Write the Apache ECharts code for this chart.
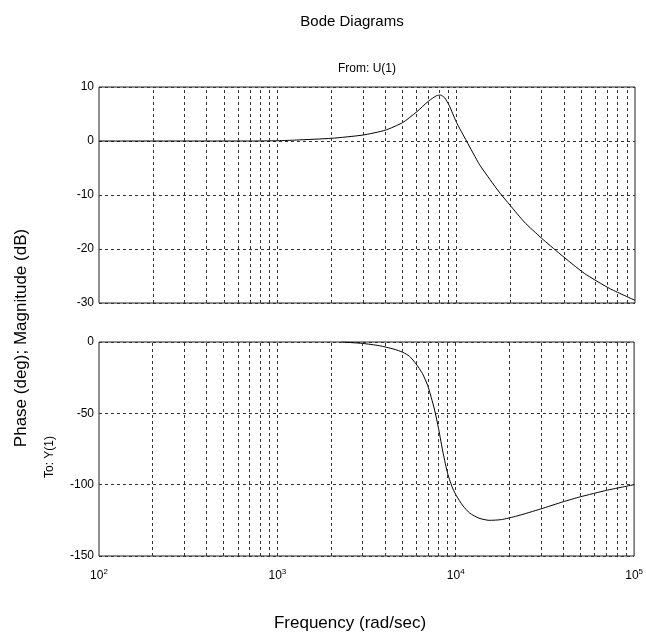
<!DOCTYPE html>
<html>
<head>
<meta charset="utf-8">
<script src="https://cdn.jsdelivr.net/npm/echarts@6/dist/echarts.min.js"></script>
<style>
  html, body { margin: 0; padding: 0; background: #fff; }
  #bode { width: 646px; height: 636px; }
</style>
</head>
<body>
<div id="bode"></div>
<script>
// magnitude curve (rad/sec, dB)
var magFreq = [100, 300, 700, 1000, 1276, 2000, 3000, 4000, 5000, 6000, 7000, 7760, 8170, 8600, 9120, 10000, 11400, 13500, 15400, 17500, 20000, 24000, 30000, 38000, 52000, 72000, 100000];
var magDb   = [0, 0, 0, 0.05, 0.18, 0.5, 1.1, 2.0, 3.4, 5.4, 7.4, 8.4, 8.5, 8.0, 6.6, 3.5, 0, -4.4, -7.1, -9.6, -11.9, -15, -18, -20.9, -24.5, -27.3, -29.5];

// phase curve (rad/sec, deg)
var phaseFreq = [2300, 3000, 3733, 4500, 5050, 5500, 6000, 6500, 6970, 7590, 8020, 8500, 9000, 9500, 10000, 11000, 12000, 13500, 15400, 18000, 22000, 30000, 40000, 50000, 70000, 100000];
var phaseDeg  = [0, -1, -2.6, -5, -7.2, -10, -15.4, -22, -30.6, -47, -61, -78, -92, -101, -107, -115, -120, -123.5, -125, -124.5, -122, -117, -112, -108.5, -104, -100];

// dashed frequency grid lines
var gridFreqs = [200, 300, 400, 500, 600, 700, 800, 900, 1000,
                 2000, 3000, 4000, 5000, 6000, 7000, 8000, 9000, 10000,
                 20000, 30000, 40000, 50000, 60000, 70000, 80000, 90000];

function pairs(xs, ys) {
  return xs.map(function (x, i) { return [x, ys[i]]; });
}

var dash = { type: [3, 3], color: '#333', width: 1 };
var gridLines = {
  silent: true,
  symbol: 'none',
  label: { show: false },
  lineStyle: dash,
  animation: false,
  data: gridFreqs.map(function (f) { return { xAxis: f }; })
};

var tickFont = { fontFamily: 'Liberation Sans', fontSize: 12, color: '#000' };

var chart = echarts.init(document.getElementById('bode'));
chart.setOption({
  animation: false,
  backgroundColor: '#fff',
  title: [
    { text: 'Bode Diagrams', left: 347, top: 9, textAlign: 'center',
      textStyle: { fontFamily: 'Liberation Sans', fontSize: 15, fontWeight: 'normal', color: '#000' } },
    { text: 'From: U(1)', left: 362, top: 58, textAlign: 'center',
      textStyle: { fontFamily: 'Liberation Sans', fontSize: 12, fontWeight: 'normal', color: '#000' } }
  ],
  grid: [
    { left: 99, top: 87, width: 536, height: 216, show: true, borderColor: '#222', borderWidth: 1 },
    { left: 99, top: 342, width: 536, height: 214, show: true, borderColor: '#222', borderWidth: 1 }
  ],
  xAxis: [
    { type: 'log', logBase: 10, min: 100, max: 100000, gridIndex: 0,
      axisLine: { show: false }, axisTick: { show: false }, axisLabel: { show: false },
      splitLine: { show: false } },
    { type: 'log', logBase: 10, min: 100, max: 100000, gridIndex: 1,
      axisLine: { show: false }, axisTick: { show: false }, splitLine: { show: false },
      axisLabel: {
        margin: 12,
        formatter: function (v) {
          return '{b|10}{s|' + Math.round(Math.log10(v)) + '}';
        },
        rich: {
          b: { fontFamily: 'Liberation Sans', fontSize: 12, color: '#000', lineHeight: 16 },
          s: { fontFamily: 'Liberation Sans', fontSize: 8, color: '#000', verticalAlign: 'top', lineHeight: 10 }
        }
      } }
  ],
  yAxis: [
    { type: 'value', min: -30, max: 10, interval: 10, gridIndex: 0,
      axisLine: { show: false }, axisTick: { show: false },
      axisLabel: Object.assign({ margin: 5 }, tickFont),
      splitLine: { show: true, lineStyle: dash } },
    { type: 'value', min: -150, max: 0, interval: 50, gridIndex: 1,
      axisLine: { show: false }, axisTick: { show: false },
      axisLabel: Object.assign({ margin: 5 }, tickFont),
      splitLine: { show: true, lineStyle: dash } }
  ],
  graphic: [
    { type: 'text', x: 21, y: 338, rotation: Math.PI / 2,
      style: { text: 'Phase (deg); Magnitude (dB)', font: '17px "Liberation Sans"', fill: '#000',
               align: 'center', verticalAlign: 'middle' } },
    { type: 'text', x: 50, y: 457, rotation: Math.PI / 2,
      style: { text: 'To: Y(1)', font: '12px "Liberation Sans"', fill: '#000',
               align: 'center', verticalAlign: 'middle' } },
    { type: 'text', x: 350, y: 623,
      style: { text: 'Frequency (rad/sec)', font: '17px "Liberation Sans"', fill: '#000',
               align: 'center', verticalAlign: 'middle' } }
  ],
  series: [
    { type: 'line', xAxisIndex: 0, yAxisIndex: 0, data: pairs(magFreq, magDb),
      showSymbol: false, smooth: 0.2, lineStyle: { color: '#000', width: 1 },
      markLine: gridLines, z: 3 },
    { type: 'line', xAxisIndex: 1, yAxisIndex: 1, data: pairs(phaseFreq, phaseDeg),
      showSymbol: false, smooth: 0.2, lineStyle: { color: '#000', width: 1 },
      markLine: gridLines, z: 3 }
  ]
});
</script>
</body>
</html>
